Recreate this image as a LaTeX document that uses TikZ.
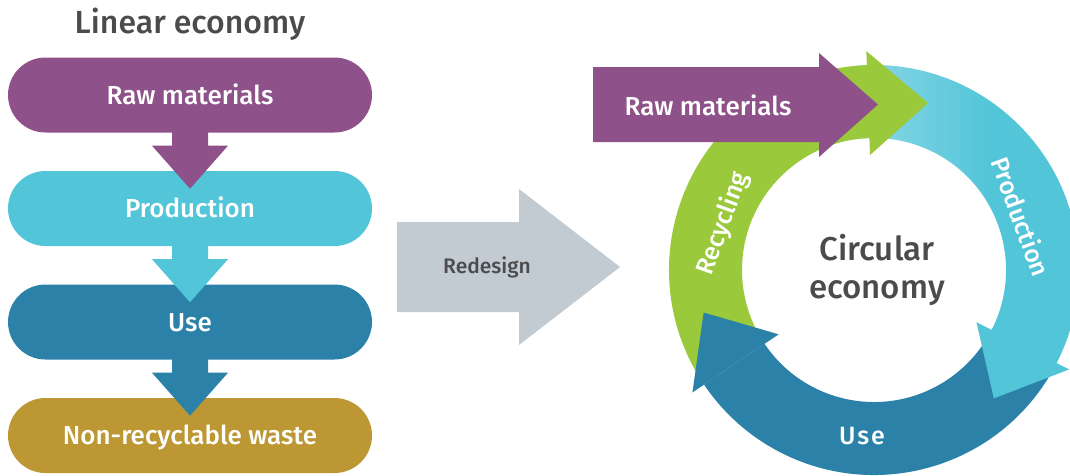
\documentclass[tikz,border=0pt]{standalone}
\usepackage{fontspec}
\setmainfont{Fira Sans}[UprightFont={* Medium}]
\usetikzlibrary{shapes.misc}

\definecolor{rawpurple}{HTML}{8E5189}
\definecolor{prodcyan}{HTML}{52C5D9}
\definecolor{prodlight}{HTML}{A6DFEA}
\definecolor{useblue}{HTML}{2B81A8}
\definecolor{wastegold}{HTML}{BC9733}
\definecolor{recgreen}{HTML}{9AC93B}
\definecolor{redesigngrey}{HTML}{C2CAD2}
\definecolor{textgrey}{HTML}{4A4B4D}

% light start of the production band
\pgfdeclarehorizontalshading{prodfade}{100bp}{color(0bp)=(prodlight); color(11bp)=(prodlight);
	color(55bp)=(prodcyan); color(100bp)=(prodcyan)}

\begin{document}
\begin{tikzpicture}[x=1pt,y=1pt,
		pill/.style={
			rounded rectangle,
			minimum width=364pt,
			minimum height=75pt,
			inner sep=0pt,
			text=white,
			text height=18pt,
			text depth=0pt,
			font=\fontsize{26}{30}\selectfont
		},
		heading/.style={
			text=textgrey,
			font=\fontsize{32}{38}\selectfont
		},
		ringlabel/.style={
			text=white,
			text height=17pt,
			text depth=0pt,
			font=\fontsize{25}{30}\selectfont
		}
		]
		
		\useasboundingbox (0,0) rectangle (1070,-475);
		
		% Linear economy
		\node[heading, anchor=base] (lintitle) at (190,-33) {Linear economy};
		
		\node[pill, fill=rawpurple] (lraw) at (190,-95) {Raw materials};
		\node[pill, fill=prodcyan] (lprod) at (190,-208.5) {Production};
		\node[pill, fill=useblue] (luse) at (190,-322) {Use};
		\node[pill, fill=wastegold] (lwaste) at (190,-435.5) {Non-recyclable waste};
		
		% Down arrows between the stages
		\foreach \stage/\col in {lraw/rawpurple, lprod/prodcyan, luse/useblue}
			\fill[\col] ([xshift=-18pt,yshift=2pt]\stage.south) -- ++(0,-15) -- ++(-20,0)
				-- ++(38,-43) -- ++(38,43) -- ++(-20,0) -- ++(0,15) -- cycle;
		
		% Redesign arrow
		\fill[redesigngrey] (397,-222) -- (519,-222) -- (519,-189) -- (620,-267)
			-- (519,-345) -- (519,-312) -- (397,-312) -- cycle;
		\node[text=textgrey, font=\fontsize{21}{25}\selectfont, anchor=base] (redesign) at (487,-273) {Redesign};
		
		% Circular economy
		\begin{scope}[shift={(874,-270)}]
			\coordinate (ring) at (0,0);
			
			% Use
			\fill[useblue] (-30:205) arc[start angle=-30, end angle=-146, radius=205]
				-- (-146:132) arc[start angle=-146, end angle=-30, radius=132] -- cycle;
			
			% Production
			\shade[shading=prodfade] (95:205) arc[start angle=95, end angle=-28, radius=205]
				-- (-28:132) arc[start angle=-28, end angle=95, radius=132] -- cycle;
			\fill[prodcyan, rotate=-27] (115,0) -- (219,0) -- (165,-60) -- cycle;
			
			% Recycling
			\fill[recgreen] (211:205) arc[start angle=211, end angle=91, radius=205]
				-- (91:132) arc[start angle=91, end angle=211, radius=132] -- cycle;
			\fill[recgreen, rotate=92] (115,0) -- (219,0) -- (165,-60) -- cycle;
			
			% head of Use goes over the recycling tail
			\fill[useblue, rotate=214] (115,0) -- (219,0) -- (165,-60) -- cycle;
			
			\node[ringlabel, rotate=70] (recycling) at (-152,47) {Recycling};
			\node[ringlabel, rotate=-70] (production) at (146,53) {Production};
			\node[ringlabel, font=\fontsize{25}{30}\selectfont\addfontfeature{LetterSpace=8}] (use) at (-12,-166) {Use};
			
			\node[heading, align=center, font=\fontsize{33}{38}\selectfont] (circ) at (3,0) {Circular\\economy};
		\end{scope}
		
		% Raw materials into the loop
		\fill[rawpurple] (593,-67) -- (819,-67) -- (819,-53) -- (878,-104.5)
			-- (819,-157) -- (819,-142) -- (593,-142) -- cycle;
		\node[ringlabel, font=\fontsize{26}{30}\selectfont, text height=18pt] (craw) at (708,-106) {Raw materials};
		
	\end{tikzpicture}
\end{document}
